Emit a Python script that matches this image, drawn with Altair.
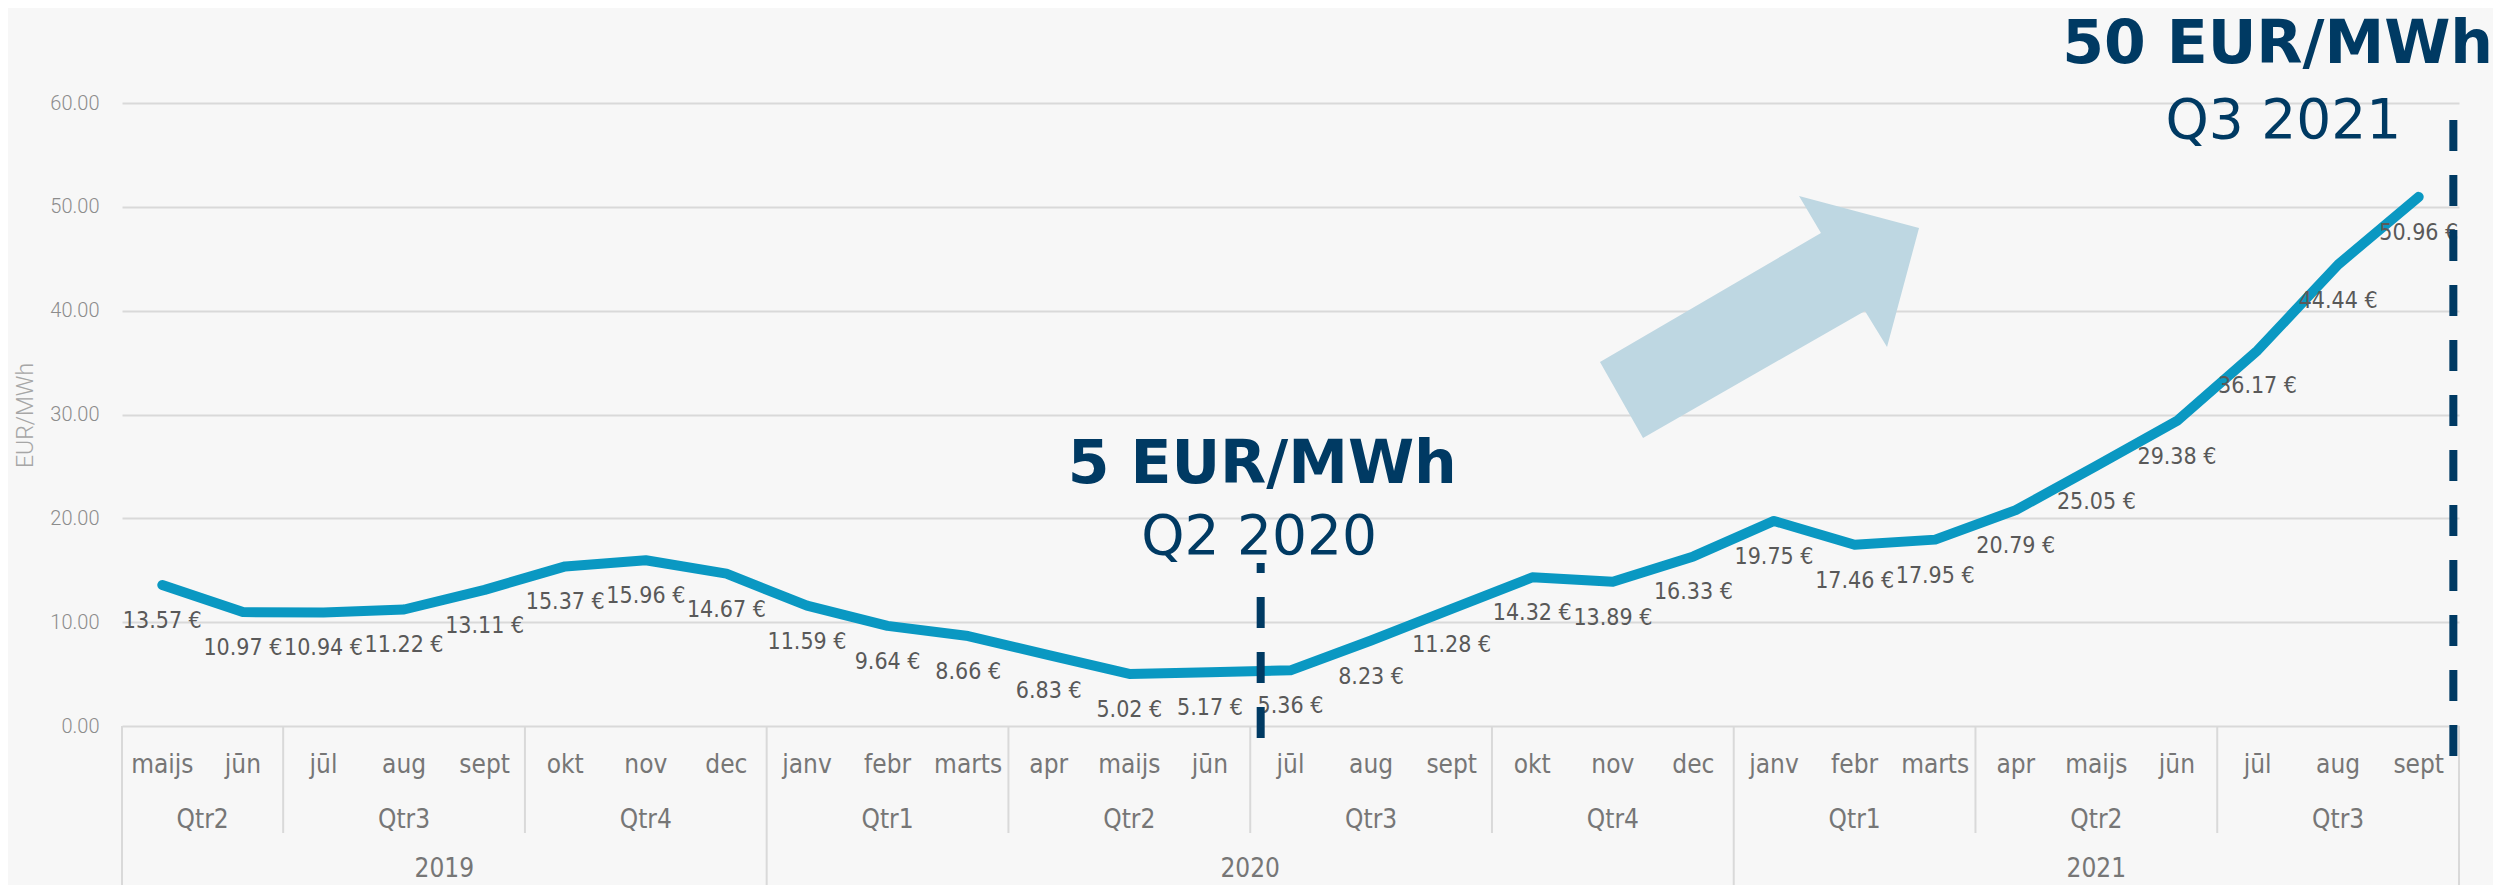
import altair as alt
import pandas as pd

# ---- data ----
months = ["maijs", "jūn", "jūl", "aug", "sept", "okt", "nov", "dec",
          "janv", "febr", "marts", "apr", "maijs", "jūn", "jūl", "aug", "sept", "okt", "nov", "dec",
          "janv", "febr", "marts", "apr", "maijs", "jūn", "jūl", "aug", "sept"]
prices = [13.57, 10.97, 10.94, 11.22, 13.11, 15.37, 15.96, 14.67,
          11.59, 9.64, 8.66, 6.83, 5.02, 5.17, 5.36, 8.23, 11.28, 14.32, 13.89, 16.33,
          19.75, 17.46, 17.95, 20.79, 25.05, 29.38, 36.17, 44.44, 50.96]
quarter_labels = ["Qtr2", "Qtr3", "Qtr4", "Qtr1", "Qtr2", "Qtr3", "Qtr4", "Qtr1", "Qtr2", "Qtr3"]
quarter_months = [2, 3, 3, 3, 3, 3, 3, 3, 3, 3]
year_labels = ["2019", "2020", "2021"]
year_months = [8, 12, 9]
y_ticks = [0, 10, 20, 30, 40, 50, 60]

headline_texts = ["5 EUR/MWh", "50 EUR/MWh"]
period_texts = ["Q2 2020", "Q3 2021"]
# annotation anchors in data units (month index, EUR/MWh)
headline_x = [14.15, 26.75]
headline_y = [23.4, 63.85]
period_x = [14.11, 26.82]
period_y = [16.57, 56.6]
marker_x = [14.13, 28.93]
marker_top = [15.70, 58.36]
marker_bottom = [-1.35, -3.08]
arrow_x = [20.32]
arrow_y = [39.39]

NAVY = "#003A63"
LINE = "#0A98C2"
GRID = "#d9d9d9"
LABEL_FONT = "DejaVu Sans Condensed, Liberation Sans, sans-serif"

# ---- tables ----
df_line = pd.DataFrame({
    "x": [i + 0.5 for i in range(len(prices))],
    "y": prices,
    "label": [f"{v:.2f} €" for v in prices],
    "month": months,
})

q_start, q_mid, pos = [], [], 0
for n in quarter_months:
    q_start.append(pos)
    q_mid.append(pos + n / 2)
    pos += n
df_q = pd.DataFrame({"x": q_mid, "label": quarter_labels})

y_start, y_mid, pos = [], [], 0
for n in year_months:
    y_start.append(pos)
    y_mid.append(pos + n / 2)
    pos += n
y_bounds = y_start + [pos]
df_y = pd.DataFrame({"x": y_mid, "label": year_labels})
df_long = pd.DataFrame({"x": y_bounds})
df_short = pd.DataFrame({"x": [b for b in q_start if b not in y_bounds]})

df_head = pd.DataFrame({"x": headline_x, "y": headline_y, "label": headline_texts})
df_per = pd.DataFrame({"x": period_x, "y": period_y, "label": period_texts})
df_mark = pd.DataFrame({"x": marker_x, "y": marker_top, "y2": marker_bottom})
df_arrow = pd.DataFrame({"x": arrow_x, "y": arrow_y})

W, H = 2337, 623

X = alt.X("x:Q", scale=alt.Scale(domain=[0, 29], nice=False, zero=False), axis=None)
Y = alt.Y("y:Q", scale=alt.Scale(domain=[0, 60], nice=False, zero=False),
          axis=alt.Axis(values=y_ticks, format=".2f", title="EUR/MWh",
                        labelFont="Roboto", labelFontWeight=300, labelFontSize=20,
                        labelColor="#8c8c8c", labelPadding=23,
                        ticks=False, domain=False,
                        grid=True, gridColor=GRID, gridWidth=2,
                        titleFont="Roboto", titleFontWeight=300, titleFontSize=23,
                        titleColor="#a6a6a6", titleAngle=270, titleAlign="center",
                        titleBaseline="alphabetic", titleX=-90, titleY=312))

line = alt.Chart(df_line).mark_line(color=LINE, strokeWidth=10, strokeCap="round",
                                    strokeJoin="round").encode(x=X, y=Y)

labels = alt.Chart(df_line).mark_text(font=LABEL_FONT, fontSize=23, color="#595959",
                                      baseline="alphabetic", dy=43).encode(
    x=X, y=Y, text="label:N")

month_txt = alt.Chart(df_line).mark_text(font=LABEL_FONT, fontSize=26, color="#767676",
                                         baseline="alphabetic").encode(
    x=X, y=alt.value(670), text="month:N")
q_txt = alt.Chart(df_q).mark_text(font=LABEL_FONT, fontSize=26, color="#767676",
                                  baseline="alphabetic").encode(
    x=X, y=alt.value(725), text="label:N")
yr_txt = alt.Chart(df_y).mark_text(font=LABEL_FONT, fontSize=26, color="#767676",
                                   baseline="alphabetic").encode(
    x=X, y=alt.value(774), text="label:N")

sep_short = alt.Chart(df_short).mark_rule(color=GRID, strokeWidth=2).encode(
    x=X, y=alt.value(H), y2=alt.value(730))
sep_long = alt.Chart(df_long).mark_rule(color=GRID, strokeWidth=2).encode(
    x=X, y=alt.value(H), y2=alt.value(800))

arrow_path = ("M -0.728 0.756 L -0.997 0.281 L 0.384 -0.525 L 0.247 -0.756 "
              "L 0.997 -0.556 L 0.797 0.188 L 0.659 -0.038 Z")
arrow = alt.Chart(df_arrow).mark_point(shape=arrow_path, filled=True, fill="#BED7E2",
                                       fillOpacity=1, opacity=1, strokeWidth=0,
                                       size=320 * 320).encode(x=X, y=Y)

mark1 = alt.Chart(df_mark.iloc[[0]]).mark_rule(color=NAVY, strokeWidth=8,
                                               strokeDash=[31, 24], strokeDashOffset=21,
                                               strokeCap="butt").encode(
    x=X, y=Y, y2="y2:Q")
mark2 = alt.Chart(df_mark.iloc[[1]]).mark_rule(color=NAVY, strokeWidth=8,
                                               strokeDash=[31, 24],
                                               strokeCap="butt").encode(
    x=X, y=Y, y2="y2:Q")

head = alt.Chart(df_head).mark_text(font="DejaVu Sans", fontWeight="bold", fontSize=60,
                                    color=NAVY, baseline="alphabetic").encode(
    x=X, y=Y, text="label:N")
per = alt.Chart(df_per).mark_text(font="DejaVu Sans", fontSize=55, color=NAVY,
                                  baseline="alphabetic").encode(
    x=X, y=Y, text="label:N")

chart = alt.layer(
    sep_short, sep_long, arrow, line, labels, month_txt, q_txt, yr_txt,
    mark1, mark2, per, head
).properties(
    width=W, height=H,
    padding={"left": 114, "top": 95, "right": 34, "bottom": 159},
    autosize=alt.AutoSizeParams(type="none"),
).configure(background="#f7f7f7").configure_view(stroke=None)

chart.save("out.html", embed_options={"renderer": "svg", "actions": False})
